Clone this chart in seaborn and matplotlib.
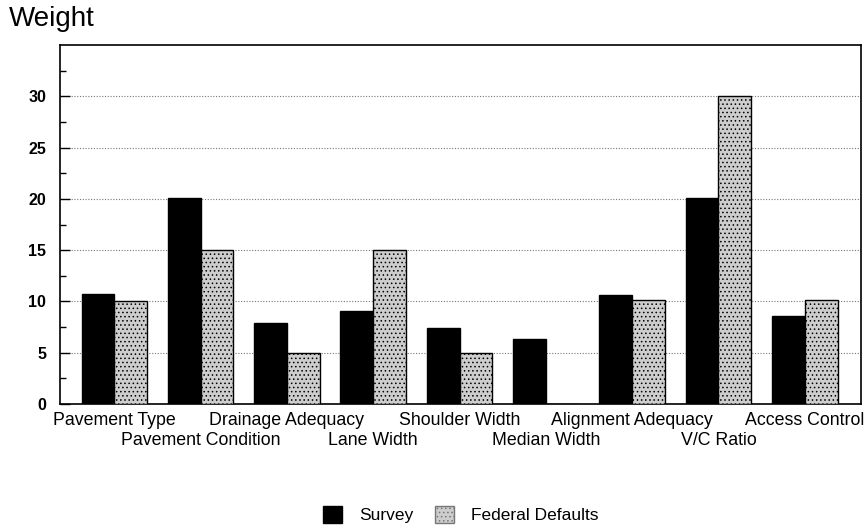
import matplotlib
matplotlib.use("Agg")
import matplotlib.pyplot as plt
import seaborn as sns
import pandas as pd
from matplotlib.patches import Patch

categories = ["Pavement Type", "Pavement Condition", "Drainage Adequacy", "Lane Width",
              "Shoulder Width", "Median Width", "Alignment Adequacy", "V/C Ratio", "Access Control"]
survey = [10.75, 20.1, 7.9, 9.1, 7.4, 6.35, 10.65, 20.1, 8.6]
federal = [10.0, 15.0, 5.0, 15.0, 5.0, 0.0, 10.1, 30.0, 10.1]
series_names = ["Survey", "Federal Defaults"]
yticks = [0, 5, 10, 15, 20, 25, 30]

sns.set_theme(style="white")
plt.rcParams['font.family'] = ['Liberation Sans', 'DejaVu Sans']
plt.rcParams['text.color'] = 'black'
plt.rcParams['xtick.color'] = 'black'
plt.rcParams['ytick.color'] = 'black'
plt.rcParams['hatch.color'] = '#8a8a8a'
plt.rcParams['hatch.linewidth'] = 0.6

df = pd.DataFrame({
    "Category": categories * 2,
    "Weight": survey + federal,
    "Series": [series_names[0]] * len(categories) + [series_names[1]] * len(categories),
})

fig = plt.figure(figsize=(8.66, 5.25), dpi=100)
ax = fig.add_axes([0.0693, 0.2305, 0.9247, 0.6835])

colors = {"Survey": "#000000", "Federal Defaults": "#cdcdcd"}
sns.barplot(data=df, x="Category", y="Weight", hue="Series", palette=colors,
            width=0.76, gap=0, ax=ax, legend=False, edgecolor="black", linewidth=1.0,
            saturation=1)

for p in ax.patches[len(categories):]:
    p.set_hatch("....")
for p in ax.patches:
    p.set_zorder(3)

ax.set_xlim(-0.63, 8.65)
ax.set_ylim(0, 35)
ax.set_yticks(yticks)
ax.set_yticks([2.5 + 5 * i for i in range(7)], minor=True)
ax.tick_params(axis='y', which='major', direction='in', length=7, width=1, labelsize=11.5, pad=10, left=True)
ax.tick_params(axis='y', which='minor', direction='in', length=4, width=1, left=True)

# staggered category labels: even on first row (major), odd on second row (minor)
even_idx = list(range(0, len(categories), 2))
odd_idx = list(range(1, len(categories), 2))
ax.set_xticks(even_idx)
ax.set_xticklabels([categories[i] for i in even_idx])
ax.set_xticks(odd_idx, minor=True)
ax.set_xticklabels([categories[i] for i in odd_idx], minor=True)
ax.tick_params(axis='x', which='major', length=0, labelsize=12.8, pad=6)
ax.tick_params(axis='x', which='minor', length=0, labelsize=12.8, pad=20)

for lbl in ax.get_yticklabels():
    lbl.set_fontweight('bold')
ax.set_xlabel("")
ax.set_ylabel("")
ax.yaxis.grid(True, which='major', linestyle=(0, (1, 1.5)), color='#777777', linewidth=0.8, zorder=0)
ax.set_axisbelow(True)
for s in ax.spines.values():
    s.set_visible(True)
    s.set_color('black')
    s.set_linewidth(1.2)

fig.text(0.01, 0.988, "Weight", fontsize=20, ha='left', va='top', color='black')

handles = [Patch(facecolor="#000000", edgecolor="black", label="Survey"),
           Patch(facecolor="#cdcdcd", edgecolor="#777777", hatch="....", label="Federal Defaults")]
fig.legend(handles=handles, loc='center', bbox_to_anchor=(0.532, 0.02), ncol=2, frameon=False,
           fontsize=12.5, handlelength=1.1, handleheight=1.1, columnspacing=1.2, handletextpad=1.0,
           borderpad=0.1)

fig.savefig("out.png", dpi=100)
